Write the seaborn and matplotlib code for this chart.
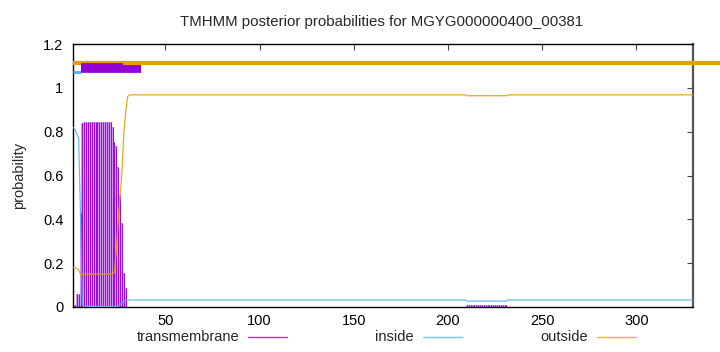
import numpy as np
import pandas as pd
import matplotlib
matplotlib.use("Agg")
import matplotlib.pyplot as plt
from matplotlib.lines import Line2D
import seaborn as sns

# ---------------- data ----------------
title = "TMHMM posterior probabilities for MGYG000000400_00381"
seq_len = 330
legend_labels = ["transmembrane", "inside", "outside"]
x_ticks = [50, 100, 150, 200, 250, 300]
y_ticks = [0, 0.2, 0.4, 0.6, 0.8, 1.0, 1.2]
y_tick_labels = ["0", "0.2", "0.4", "0.6", "0.8", "1", "1.2"]

# residues 1..32 read individually
tm_head = [0.0, 0.01, 0.06, 0.06, 0.43, 0.84, 0.845, 0.845, 0.845, 0.845,
           0.845, 0.845, 0.845, 0.845, 0.845, 0.845, 0.845, 0.845, 0.845, 0.845,
           0.845, 0.82, 0.755, 0.735, 0.64, 0.51, 0.385, 0.157, 0.087, 0.0,
           0.0, 0.0]
inside_head = [0.82, 0.81, 0.79, 0.77, 0.42, 0.01, 0.003, 0.003, 0.003, 0.003,
               0.003, 0.003, 0.003, 0.003, 0.003, 0.003, 0.003, 0.003, 0.003, 0.003,
               0.003, 0.003, 0.003, 0.003, 0.006, 0.012, 0.02, 0.027, 0.031, 0.032,
               0.032, 0.032]
outside_head = [0.18, 0.18, 0.175, 0.17, 0.15, 0.15, 0.15, 0.15, 0.15, 0.15,
                0.15, 0.15, 0.15, 0.15, 0.15, 0.15, 0.15, 0.15, 0.15, 0.15,
                0.15, 0.15, 0.16, 0.26, 0.40, 0.51, 0.62, 0.80, 0.89, 0.96,
                0.968, 0.968]
# plateaus after residue 32: (first residue, last residue, value)
tm_tail = [(33, 209, 0.0), (210, 231, 0.007), (232, 330, 0.0)]
inside_tail = [(33, 209, 0.032), (210, 231, 0.027), (232, 330, 0.032)]
outside_tail = [(33, 209, 0.968), (210, 231, 0.964), (232, 330, 0.968)]

# predicted topology bars at the top: (start, end, level)
inside_bar = (1, 5.5, 1.074)
tm_bar_a = (5.5, 27.5, 1.091)
tm_bar_b = (27.5, 37, 1.091)
outside_bar = (1, 345, 1.112)


def expand(head, tail):
    vals = list(head)
    for a, b, v in tail:
        vals += [v] * (b - a + 1)
    return np.array(vals)


pos = np.arange(1, seq_len + 1)
tm = expand(tm_head, tm_tail)
inside = expand(inside_head, inside_tail)
outside = expand(outside_head, outside_tail)
df = pd.DataFrame({"pos": pos, "tm": tm, "inside": inside, "outside": outside})

# ---------------- style ----------------
sns.set_theme(style="white")
plt.rcParams["font.family"] = ["Liberation Sans", "DejaVu Sans"]
FS = 10.5
plt.rcParams["font.size"] = FS

C_TM = "#9400d3"
C_TM_LIGHT = "#d69af2"
C_IN = "#56b4e9"
C_OUT = "#e69f00"

fig = plt.figure(figsize=(7.2, 3.52), dpi=100)
ax = fig.add_axes([73 / 720, 1 - 307 / 352, (693 - 73) / 720, (307 - 44) / 352])

# transmembrane impulses (light halo + dark core, like gnuplot's antialiased impulses)
ax.vlines(df["pos"], 0, df["tm"], color=C_TM_LIGHT, linewidth=1.45, zorder=2)
ax.vlines(df["pos"], 0, df["tm"], color=C_TM, linewidth=0.75, alpha=0.9, zorder=2.1)
# inside / outside curves
sns.lineplot(data=df, x="pos", y="inside", ax=ax, color=C_IN, linewidth=0.9, alpha=0.9, zorder=3)
sns.lineplot(data=df, x="pos", y="outside", ax=ax, color=C_OUT, linewidth=0.9, alpha=0.9, zorder=3)

# topology bars
ax.plot([inside_bar[0], inside_bar[1]], [inside_bar[2]] * 2, color=C_IN, linewidth=2.2,
        solid_capstyle="butt", zorder=4)
ax.plot([tm_bar_b[0], tm_bar_b[1]], [tm_bar_b[2]] * 2, color=C_TM, linewidth=7,
        solid_capstyle="butt", zorder=4)
ax.plot([outside_bar[0], outside_bar[1]], [outside_bar[2]] * 2, color=C_OUT, linewidth=3,
        solid_capstyle="butt", zorder=5, clip_on=False)
ax.plot([tm_bar_a[0], tm_bar_a[1]], [tm_bar_a[2]] * 2, color=C_TM, linewidth=7,
        solid_capstyle="butt", zorder=6)

ax.set_xlim(1, seq_len)
ax.set_ylim(0, 1.2)
ax.set_xticks(x_ticks)
ax.set_xticklabels([str(t) for t in x_ticks])
ax.set_yticks(y_ticks)
ax.set_yticklabels(y_tick_labels)
ax.tick_params(direction="in", length=4.5, width=0.8, color="#444444",
               top=True, right=True, labelsize=FS, labelcolor="black")
ax.tick_params(axis="y", pad=7)
ax.tick_params(axis="x", pad=5)
ax.set_xlabel("")
ax.set_ylabel("probability", fontsize=FS, labelpad=12)
for s in ax.spines.values():
    s.set_color("black")
    s.set_linewidth(1.0)
ax.spines["right"].set_color("#555555")
ax.spines["right"].set_linewidth(1.6)

fig.text(382 / 720, 1 - 22 / 352, title, ha="center", va="center", fontsize=10.8)

# gnuplot style legend below the plot: label then sample line
legend_colors = [C_TM, C_IN, C_OUT]
label_right = [239, 413.5, 588]
ly = 1 - 337 / 352
for lab, col, xr in zip(legend_labels, legend_colors, label_right):
    fig.text(xr / 720, ly, lab, ha="right", va="center", fontsize=FS)
    fig.add_artist(Line2D([(xr + 9) / 720, (xr + 48) / 720], [ly, ly], color=col,
                          linewidth=1.0, alpha=0.8, transform=fig.transFigure))

fig.savefig("out.png", dpi=100, facecolor="white")
